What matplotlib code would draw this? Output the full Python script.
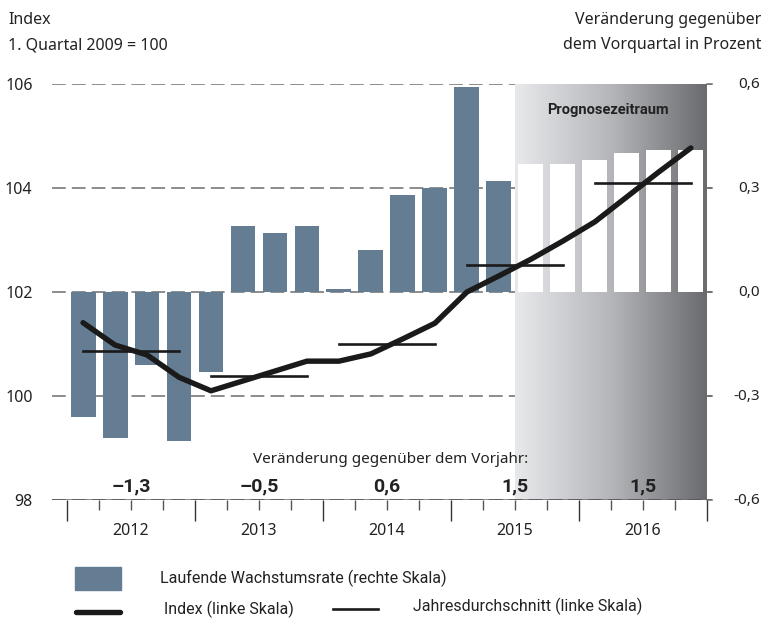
import numpy as np
import matplotlib.pyplot as plt
from matplotlib.colors import LinearSegmentedColormap
from matplotlib.patches import Rectangle
from matplotlib.lines import Line2D
from matplotlib.transforms import blended_transform_factory

# quarterly data 2012 Q1 .. 2016 Q4
years = ['2012', '2013', '2014', '2015', '2016']
growth = [-0.36, -0.42, -0.21, -0.43,
          -0.23, 0.19, 0.17, 0.19,
          0.01, 0.12, 0.28, 0.30,
          0.59, 0.32, 0.37, 0.37,
          0.38, 0.40, 0.41, 0.41]
index = [101.41, 100.98, 100.79, 100.36,
         100.10, 100.29, 100.48, 100.67,
         100.67, 100.81, 101.10, 101.40,
         102.00, 102.31, 102.63, 102.98,
         103.35, 103.83, 104.31, 104.77]
annual_avg = [100.87, 100.39, 101.00, 102.52, 104.10]
yoy_change = ['–1,3', '–0,5', '0,6', '1,5', '1,5']
right_ticks = [-0.6, -0.3, 0.0, 0.3, 0.6]
right_labels = ['-0,6', '-0,3', '0,0', '0,3', '0,6']
n_actual = 14  # quarters up to 2015 Q2 are observed, rest forecast

bar_color = '#657d92'
line_color = '#1a1a1a'
grid_color = '#6e6e6e'
text_color = '#222222'
narrow = ['Roboto', 'DejaVu Sans']

plt.rcParams['font.family'] = 'Noto Sans'

fig = plt.figure(figsize=(7.63, 6.22), dpi=100)
ax = fig.add_axes([52 / 763, 122 / 622, 660 / 763, 416 / 622])
ax.set_xlim(-0.97, 19.66)
ax.set_ylim(98, 106)
ax2 = ax.twinx()
ax2.set_ylim(-0.6, 0.6)

x = np.arange(len(growth))

# forecast background gradient
cmap = LinearSegmentedColormap.from_list('fc', ['#e8e9eb', '#b5b6ba', '#6a6b6f'])
grad = np.linspace(0, 1, 256).reshape(1, -1)
ax.imshow(grad, cmap=cmap, aspect='auto', extent=(13.5, 19.5, 98, 106), zorder=1)

# dashed grid lines
for v in [100, 102, 104, 106]:
    ax.axhline(v, color=grid_color, lw=1.1, ls=(0, (9, 4)), zorder=0.5)
ax.axhline(98, color=grid_color, lw=1.1, zorder=2)
ax.axhline(98, color='#555555', lw=1.1, ls=(0, (9, 4)), zorder=2.1)

# bars on the right scale
colors = [bar_color] * n_actual + ['white'] * (len(growth) - n_actual)
ax2.bar(x, growth, width=0.78, color=colors, zorder=3)

# index line and annual averages on the left scale
ax2.set_zorder(ax.get_zorder() + 1)
ax2.patch.set_visible(False)
ax2.plot(x, [(v - 102) * 0.15 for v in index], color=line_color, lw=3.9,
         solid_capstyle='round', zorder=5)
for k, avg in enumerate(annual_avg):
    ax2.plot([4 * k, 4 * k + 3], [(avg - 102) * 0.15] * 2, color=line_color,
             lw=1.9, zorder=4)

# left axis
ax.set_yticks([98, 100, 102, 104, 106])
ax.tick_params(axis='y', length=0, pad=14, labelsize=11.5, colors=text_color)
# right axis, labels right-aligned near the figure edge
ax2.set_yticks(right_ticks)
ax2.set_yticklabels([])
ax2.tick_params(axis='y', length=0)
tr = blended_transform_factory(fig.transFigure, ax2.transData)
for v, lab in zip(right_ticks, right_labels):
    ax2.plot([19.5, 19.66], [v, v], color=grid_color, lw=1.1, clip_on=False, zorder=2)
    ax2.text(760 / 763, v, lab, transform=tr, ha='right', va='center',
             fontsize=11, color=text_color)

# x axis ticks: years major, quarters minor
ax.set_xticks([4 * k - 0.5 for k in range(6)])
ax.set_xticks([q - 0.5 for q in range(21) if q % 4], minor=True)
ax.set_xticklabels([])
ax.tick_params(axis='x', which='major', length=15, width=1, color='#333333', direction='out')
ax.tick_params(axis='x', which='minor', length=7, width=1, color='#555555', direction='out')
for k, yr in enumerate(years):
    ax.text(4 * k + 1.5, 97.4, yr, ha='center', va='center', fontsize=11.5, color=text_color)
    ax.text(4 * k + 1.5, 98.27, yoy_change[k], ha='center', va='center',
            fontsize=14, fontweight='bold', family=narrow, color=text_color)
ax.text(5.3, 98.77, 'Veränderung gegenüber dem Vorjahr:', ha='left', va='center',
        fontsize=11, color=text_color)
ax.text(16.4, 105.5, 'Prognosezeitraum', ha='center', va='center', fontsize=10.5,
        fontweight='bold', family=narrow, color=text_color)

for a in (ax, ax2):
    for s in a.spines.values():
        s.set_visible(False)

# axis titles
fig.text(8 / 763, 1 - 20 / 622, 'Index', ha='left', va='center', fontsize=11.5, color=text_color)
fig.text(8 / 763, 1 - 45 / 622, '1. Quartal 2009 = 100', ha='left', va='center',
         fontsize=11.5, color=text_color)
fig.text(761 / 763, 1 - 20 / 622, 'Veränderung gegenüber', ha='right', va='center',
         fontsize=11.5, color=text_color)
fig.text(761 / 763, 1 - 45 / 622, 'dem Vorquartal in Prozent', ha='right', va='center',
         fontsize=11.5, color=text_color)

# legend
fig.add_artist(Rectangle((75 / 763, 1 - 590 / 622), 46 / 763, 23 / 622,
                         transform=fig.transFigure, color=bar_color))
fig.text(160 / 763, 1 - 578 / 622, 'Laufende Wachstumsrate (rechte Skala)', ha='left',
         va='center', fontsize=11.5, family=narrow, color=text_color)
fig.add_artist(Line2D([76 / 763, 120 / 763], [1 - 612 / 622] * 2, transform=fig.transFigure,
                      color=line_color, lw=3.9, solid_capstyle='round'))
fig.text(164 / 763, 1 - 609 / 622, 'Index (linke Skala)', ha='left', va='center',
         fontsize=11.5, family=narrow, color=text_color)
fig.add_artist(Line2D([333 / 763, 378 / 763], [1 - 609 / 622] * 2, transform=fig.transFigure,
                      color=line_color, lw=1.9))
fig.text(413 / 763, 1 - 606 / 622, 'Jahresdurchschnitt (linke Skala)', ha='left', va='center',
         fontsize=11.5, family=narrow, color=text_color)

fig.savefig('out.png', dpi=100)
